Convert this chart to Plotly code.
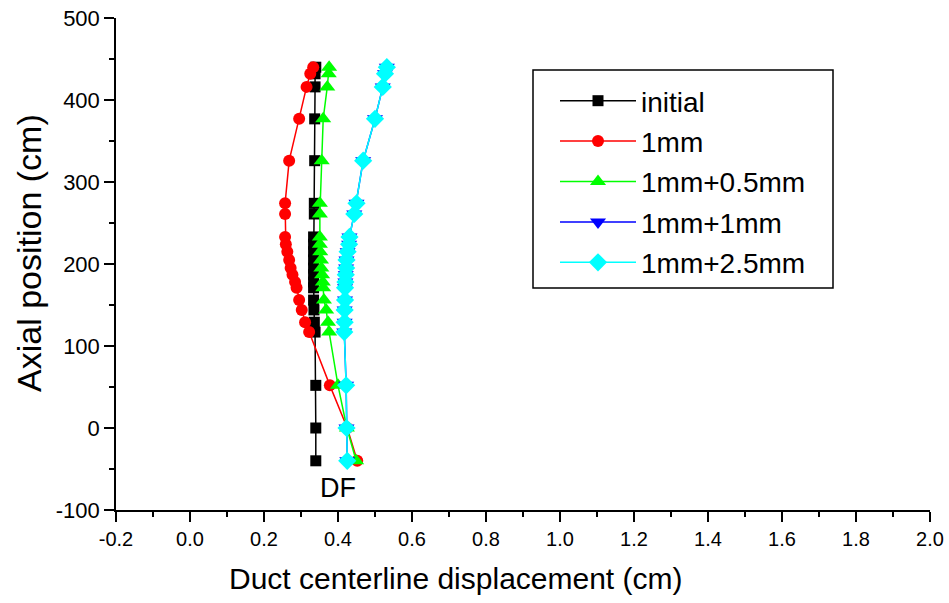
import plotly.graph_objects as go

# Axial positions (cm), shared by all series
axial = [440, 432, 416, 377, 326, 274, 261, 233, 224, 215, 205, 195, 187, 178,
         171, 156, 144, 129, 117, 52, 0, -40]

initial = [0.340, 0.338, 0.338, 0.337, 0.337, 0.336, 0.336, 0.334, 0.334, 0.334,
           0.334, 0.334, 0.334, 0.334, 0.334, 0.334, 0.335, 0.336, 0.338, 0.340,
           0.340, 0.340]
mm1 = [0.333, 0.325, 0.315, 0.295, 0.268, 0.257, 0.257, 0.257, 0.259, 0.263,
       0.268, 0.272, 0.277, 0.284, 0.288, 0.295, 0.302, 0.311, 0.322, 0.378,
       0.425, 0.452]
mm1_05 = [0.376, 0.375, 0.371, 0.360, 0.356, 0.351, 0.351, 0.351, 0.351, 0.352,
          0.354, 0.355, 0.357, 0.359, 0.360, 0.362, 0.368, 0.373, 0.376, 0.400,
          0.424, 0.449]
mm1_1 = [0.532, 0.527, 0.521, 0.500, 0.468, 0.450, 0.444, 0.431, 0.430, 0.426,
         0.423, 0.422, 0.421, 0.420, 0.419, 0.419, 0.418, 0.418, 0.417, 0.422,
         0.423, 0.425]
mm1_25 = [0.532, 0.527, 0.521, 0.500, 0.468, 0.450, 0.444, 0.431, 0.430, 0.426,
          0.423, 0.422, 0.421, 0.420, 0.419, 0.419, 0.418, 0.418, 0.417, 0.422,
          0.423, 0.425]

series_names = ["initial", "1mm", "1mm+0.5mm", "1mm+1mm", "1mm+2.5mm"]
series_vals = [initial, mm1, mm1_05, mm1_1, mm1_25]

x_tickvals = [-0.2, 0.0, 0.2, 0.4, 0.6, 0.8, 1.0, 1.2, 1.4, 1.6, 1.8, 2.0]
x_ticktext = ["-0.2", "0.0", "0.2", "0.4", "0.6", "0.8", "1.0", "1.2", "1.4",
              "1.6", "1.8", "2.0"]
y_tickvals = [-100, 0, 100, 200, 300, 400, 500]
y_ticktext = ["-100", "0", "100", "200", "300", "400", "500"]

x_title = "Duct centerline displacement (cm)"
y_title = "Axial position (cm)"

colors = ["#000000", "#FF0000", "#00FF00", "#0000FF", "#00FFFF"]
symbols = ["square", "circle", "triangle-up", "triangle-down", "diamond"]
sizes = [11, 12, 14, 14, 14]

W, H = 949, 603
L, R, T, B = 116, 19, 18, 93
PW, PH = W - L - R, H - T - B

fig = go.Figure()
for i, (name, vals) in enumerate(zip(series_names, series_vals)):
    fig.add_trace(go.Scatter(
        x=vals, y=axial, name=name, mode="lines+markers",
        line=dict(color=colors[i], width=1.5),
        marker=dict(symbol=symbols[i], size=sizes[i], color=colors[i],
                    line=dict(width=0)),
        legendgroup=name,
    ))

ARIAL = "Liberation Sans, Arial, sans-serif"

fig.add_annotation(x=0.40, y=-73, text="DF", showarrow=False,
                   font=dict(family=ARIAL, size=27, color="black"))

# Axis titles placed as in the reference (not centred on the axes)
fig.add_annotation(xref="paper", yref="paper",
                   x=(456 - L) / PW, y=(H - B - 578) / PH,
                   text=x_title, showarrow=False, xanchor="center", yanchor="middle",
                   font=dict(family=ARIAL, size=30, color="black"))
fig.add_annotation(xref="paper", yref="paper",
                   x=(29 - L) / PW, y=(H - B - 253) / PH,
                   text=y_title, showarrow=False, textangle=-90,
                   xanchor="center", yanchor="middle",
                   font=dict(family=ARIAL, size=34, color="black"))

fig.add_shape(type="rect", xref="paper", yref="paper",
              x0=(533 - L) / PW, x1=(833 - L) / PW,
              y0=(H - B - 288) / PH, y1=(H - B - 70) / PH,
              line=dict(color="black", width=1.5), fillcolor="rgba(0,0,0,0)")

fig.update_layout(
    width=W, height=H,
    margin=dict(l=L, r=R, t=T, b=B, autoexpand=False),
    paper_bgcolor="white", plot_bgcolor="white",
    showlegend=True,
    legend=dict(x=(555 - L) / PW, y=(H - B - 76) / PH, xanchor="left", yanchor="top",
                bgcolor="rgba(0,0,0,0)", borderwidth=0,
                font=dict(family=ARIAL, size=28, color="black"),
                tracegroupgap=1, traceorder="grouped", itemwidth=76),
    xaxis=dict(range=[-0.2, 2.0], tickvals=x_tickvals, ticktext=x_ticktext,
               automargin=False,
               showgrid=False, zeroline=False, showline=True, linecolor="black",
               linewidth=1.5, ticks="outside", ticklen=10, tickwidth=1.5,
               tickcolor="black",
               minor=dict(dtick=0.1, tick0=-0.2, ticks="outside", ticklen=5,
                          tickwidth=1.5, tickcolor="black", showgrid=False),
               tickfont=dict(family=ARIAL, size=20, color="black")),
    yaxis=dict(range=[-100, 500], tickvals=y_tickvals, ticktext=y_ticktext,
               automargin=False,
               showgrid=False, zeroline=False,
               showline=True, linecolor="black", linewidth=1.5, ticks="outside",
               ticklen=10, tickwidth=1.5, tickcolor="black",
               minor=dict(dtick=50, tick0=0, ticks="outside", ticklen=5,
                          tickwidth=1.5, tickcolor="black", showgrid=False),
               tickfont=dict(family=ARIAL, size=22, color="black")),
)

fig.write_html("out.html", config={"displayModeBar": False},
               post_script="document.body.style.margin='0';document.body.style.padding='0';")
